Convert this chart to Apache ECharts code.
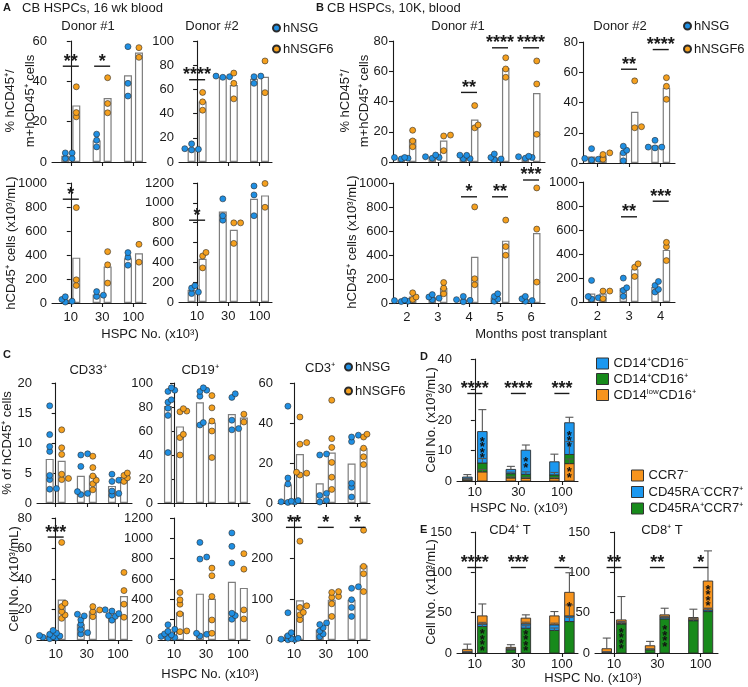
<!DOCTYPE html>
<html><head><meta charset="utf-8">
<script src="https://cdn.jsdelivr.net/npm/echarts@6/dist/echarts.min.js"></script>
<style>html,body{margin:0;padding:0;background:#fff}#chart{width:748px;height:687px}</style>
</head><body><div id="chart"></div>
<script>
// ================= DATA =================
const hspcLabels = ['10', '30', '100'];
const monthsDonor1 = [2, 3, 4, 5, 6];
const monthsDonor2 = [2, 3, 4];

// Panel A: CB HSPCs, 16 wk blood (per HSPC dose: 10, 30, 100 x10^3)
const aD1PctNSG = [[4.5, 4.5, 1.7, 1.7], [13.8, 10.8, 7.5], [57.2, 39, 32.7]];
const aD1PctF6  = [[37.3, 24.5, 22.4], [41.8, 29, 24.4], [56.7, 51.9]];
const aD2PctNSG = [[15, 11, 10.5, 10], [71, 70.5, 70], [71, 70.5, 65]];
const aD2PctF6  = [[57.5, 49.7, 42.8], [73.5, 65, 52.2], [83.5, 57.3]];
const aD1CntNSG = [[52, 30, 15, 8], [95, 65, 55], [420, 381, 315]];
const aD1CntF6  = [[795, 193, 146], [428, 318, 166], [489, 340]];
const aD2CntNSG = [[165, 140, 100, 85], [1040, 870, 825], [1170, 1080, 870]];
const aD2CntF6  = [[500, 464, 344], [798, 798, 591], [1195, 955]];
const aD1PctSig = [[0, 47.5, '**'], [1, 47.5, '*']];
const aD2PctSig = [[0, 68, '****']];
const aD1CntSig = [[0, 865, '*']];
const aD2CntSig = [[0, 825, '*']];

// Panel B: CB HSPCs, 10K, blood (per month post transplant)
const bD1PctNSG = [[3, 2.5, 2, 3], [4.6, 3.5, 3, 2.5], [4.5, 4.4, 2.2, 2.2], [5.3, 3, 2, 1.5], [3.8, 3.5, 3, 2.5]];
const bD1PctF6  = [[21, 13.9, 10.1], [17.8, 17.2, 7.5], [37.3, 24.5, 22.6], [68.9, 61.5, 56], [66.8, 51.6, 18.3]];
const bD2PctNSG = [[9.5, 3, 2.5, 2], [11.1, 8.4, 6.7, 1.5], [15, 10.5, 10.5, 10]];
const bD2PctF6  = [[6.7, 5.6, 2.5], [54.3, 23.3, 24], [56.4, 50.7, 42.1]];
const bD1CntNSG = [[25, 20, 15, 12], [70, 50, 40, 28], [55, 28, 22, 11], [77, 55, 33, 15], [55, 35, 20, 15]];
const bD1CntF6  = [[85, 50, 30], [171, 124, 77], [801, 202, 152], [691, 470, 398], [959, 616, 174]];
const bD2CntNSG = [[180, 45, 35, 25], [199, 119, 97, 47], [171, 138, 105, 83]];
const bD2CntF6  = [[91, 91, 28], [318, 290, 213], [497, 461, 345]];
const bD1PctSig = [[4, 46, '**'], [5, 75.5, '****'], [6, 75.5, '****']];
const bD2PctSig = [[3, 62, '**'], [4, 75, '****']];
const bD1CntSig = [[4, 885, '*'], [5, 885, '**'], [6, 1025, '***']];
const bD2CntSig = [[3, 710, '**'], [4, 840, '***']];

// Panel C: lineages (per HSPC dose)
const cCD33PctNSG = [[16.2, 11.4, 9.4, 8.6, 4.6, 3.9, 2.4, 2.3], [8.2, 8.0, 6.1, 1.9, 1.6, 1.4], [4.8, 3.8, 3.6, 2.0, 1.6, 1.3]];
const cCD33PctF6  = [[12.2, 9.2, 8.1, 4.8, 4.1, 3.9], [7.8, 5.9, 4.5, 3.8, 3.2, 2.2], [5.0, 4.6, 4.2, 3.6]];
const cCD19PctNSG = [[96, 94, 93, 86, 84, 79, 73, 42], [96, 94, 93, 89, 67, 65], [91, 88, 69, 62, 61]];
const cCD19PctF6  = [[78.6, 76.6, 76, 57.2, 54.5, 40], [89.5, 79.3, 68.3, 60, 37.9], [75.5, 74, 68, 67.5]];
const cCD3PctNSG  = [[48.4, 12.5, 9.5, 1.2, 0.9, 0.6, 0.5, 0.3], [24.5, 24, 4.8, 3.8, 1.3, 0.5], [33.9, 33, 30.7, 9.9, 7.9, 3]];
const cCD3PctF6   = [[43, 30.2, 29.4, 15.4, 14.9, 14], [51.4, 32.2, 27.8, 20.3, 12.9, 6.8], [34.4, 33, 27.4, 23.1, 19.2]];
const cCD33CntNSG = [[6.3, 4.5, 3.7, 3.0, 2.6, 2.2, 1.8, 1.4, 0.9], [16.9, 15.8, 13.2, 10.3, 7.0, 4.8, 3.9], [19.8, 19, 17.3, 16, 15.5, 13]];
const cCD33CntF6  = [[64, 24.1, 21.9, 18.6, 16.4, 14.2], [21.9, 19.7, 18.6, 15.3], [44.3, 32.4, 23.5, 14.9]];
const cCD19CntNSG = [[150, 105, 85, 60, 50, 35, 25, 20], [960, 816, 796, 66, 56, 40], [1053, 921, 757, 263, 240, 204]];
const cCD19CntF6  = [[467, 395, 352, 257, 89, 82], [707, 632, 428, 197, 66], [849, 697, 296, 207]];
const cCD3CntNSG  = [[67, 18, 10.5, 4, 3, 2, 1, 0.5], [42, 38, 30, 22, 15, 8], [131, 127, 99, 80, 58]];
const cCD3CntF6   = [[243, 84, 80, 68, 62, 50], [119, 117, 107, 105, 89, 58], [270, 181, 163, 119]];
const cCD33CntSig = [[0, 67.5, '***']];
const cCD3CntSig  = [[0, 277, '**'], [1, 277, '*'], [2, 277, '*']];

// Panel D: monocyte subsets, bars ordered [10 hNSG, 10 hNSGF6, 30 hNSG, 30 hNSGF6, 100 hNSG, 100 hNSGF6]
const dCD14lowCD16pos    = [0.3, 3.0, 1.0, 0.9, 0.8, 5.7];
const dCD14posCD16pos    = [0.4, 2.9, 1.4, 1.3, 1.2, 3.0];
const dCD14posCD16neg    = [0.6, 10.3, 1.4, 7.9, 4.3, 10.4];
const dErrCD14lowCD16pos = [0.2, 0.8, 0.4, 0.3, 0.3, 1.5];
const dErrCD14posCD16pos = [0.2, 1.5, 0.5, 0.8, 0.8, 4.2];
const dErrCD14posCD16neg = [0.8, 7.2, 1.0, 1.7, 2.5, 1.8];
const dStarsCD14lowCD16pos = [0, 0, 0, 0, 0, 2];
const dStarsCD14posCD16neg = [0, 4, 0, 2, 0, 3];
const dSig = [[0, 28.7, '****'], [1, 28.7, '****'], [2, 28.7, '***']];

// Panel E: T cell subsets, same bar order
const eCD4Naive     = [1.0, 33, 4, 30.8, 28, 39];     // CD45RA+CCR7+
const eCD4CM        = [0.5, 3, 1, 5.4, 7, 7];          // CD45RA-CCR7+
const eCD4Eff       = [3, 10, 2, 7, 11, 29.2];         // CCR7-
const eCD4ErrNaive  = [0.5, 3, 1, 3, 3, 5];
const eCD4ErrCM     = [0.5, 2, 0.5, 2, 2, 13.6];
const eCD4ErrEff    = [6.5, 14.8, 3.3, 4.1, 5.4, 24.3];
const eCD4StarsNaive = [0, 4, 0, 4, 0, 0];
const eCD4StarsEff   = [0, 0, 0, 0, 0, 1];
const eCD4Sig = [[0, 106, '****'], [1, 106, '***'], [2, 106, '*']];
const eCD8Naive     = [1, 36, 4, 42.3, 40, 51.4];
const eCD8CM        = [0.3, 1, 0.5, 2.1, 1, 2];
const eCD8Eff       = [4, 4, 4.5, 2.9, 3, 35.8];
const eCD8ErrNaive  = [0.5, 3, 1, 2, 3, 4];
const eCD8ErrCM     = [0.3, 1, 0.5, 1, 1, 2];
const eCD8ErrEff    = [13.2, 29, 5.4, 8.2, 10.3, 37.4];
const eCD8StarsNaive = [0, 4, 0, 4, 0, 0];
const eCD8StarsEff   = [0, 0, 0, 0, 0, 4];
const eCD8Sig = [[0, 106, '**'], [1, 106, '**'], [2, 106, '*']];

// ================= STYLE / HELPERS =================
const FONT = '"Liberation Sans", Arial, Helvetica, sans-serif';
const INK = '#1a1a1a';
const DOT_BLUE = '#1f8fe3', DOT_ORANGE = '#f5a01e';
const SEG_BLUE = '#1b98f0', SEG_GREEN = '#178a1b', SEG_ORANGE = '#f7941d';
const DOT_STEP = 3.4, DOT_MIN = 4;

const option = {
  animation: false, backgroundColor: '#ffffff', textStyle: { fontFamily: FONT },
  grid: [], xAxis: [], yAxis: [], series: [], legend: [], graphic: []
};

function mean(a) { return a.reduce((s, v) => s + v, 0) / a.length; }

function addAxes(c) {
  const gi = option.grid.length;
  option.grid.push({ left: c.left, top: c.top, width: c.width, height: c.height, containLabel: false });
  option.xAxis.push({
    type: 'value', gridIndex: gi, min: c.xmin, max: c.xmax,
    axisLine: { show: true, onZero: false, lineStyle: { color: INK, width: 1.1 } },
    axisTick: { show: true, length: 4, customValues: c.xs, lineStyle: { color: INK, width: 1.1 } },
    axisLabel: {
      show: !!c.showX, customValues: c.xs, margin: c.xMargin || 8, fontSize: 13, color: INK, fontFamily: FONT,
      formatter: v => { const i = c.xs.findIndex(x => Math.abs(x - v) < 1e-6); return i >= 0 ? c.names[i] : ''; }
    },
    splitLine: { show: false }
  });
  option.yAxis.push({
    type: 'value', gridIndex: gi, min: 0, max: c.ymax, interval: c.yint,
    axisLine: { show: true, lineStyle: { color: INK, width: 1.1 } },
    axisTick: { show: true, length: 4, lineStyle: { color: INK, width: 1.1 } },
    axisLabel: { margin: 5, fontSize: 13, color: INK, fontFamily: FONT, formatter: v => String(v) },
    splitLine: { show: false }
  });
  return gi;
}

function swarm(groups, xs, off, pxX, pxY) {
  const out = [];
  groups.forEach((vals, i) => {
    const placed = [];
    vals.slice().sort((a, b) => a - b).forEach(v => {
      let best = 0, bestDist = -1;
      for (const k of [0, 1, -1, 2, -2, 3, -3]) {
        const d = k * DOT_STEP;
        const md = placed.reduce((m, p) => Math.min(m, Math.hypot(p.d - d, (p.v - v) * pxY)), Infinity);
        if (md >= DOT_MIN) { best = d; bestDist = md; break; }
        if (md > bestDist) { bestDist = md; best = d; }
      }
      placed.push({ d: best, v: v });
      out.push([xs[i] + off + best / pxX, v]);
    });
  });
  return out;
}

function sigSeries(gi, sig, half) {
  return {
    type: 'custom', xAxisIndex: gi, yAxisIndex: gi, clip: false, silent: true, z: 8,
    data: sig.map(s => [s[0], s[1]]),
    renderItem: (params, api) => {
      const lab = sig[params.dataIndex][2];
      const p = api.coord([api.value(0), api.value(1)]);
      return {
        type: 'group', children: [
          { type: 'line', shape: { x1: p[0] - half, y1: p[1], x2: p[0] + half, y2: p[1] }, style: { stroke: INK, lineWidth: 1.4 } },
          { type: 'text', style: { text: lab, x: p[0], y: p[1] - 4.5, align: 'center', verticalAlign: 'middle', textAlign: 'center', textVerticalAlign: 'middle', font: 'bold 18px ' + FONT, fill: INK } }
        ]
      };
    }
  };
}

function dotPlot(c, nsg, f6, sig) {
  const gi = addAxes(c);
  const pxX = c.width / (c.xmax - c.xmin), pxY = c.height / c.ymax;
  const off = c.offPx / pxX;
  const bars = [];
  c.xs.forEach((x, i) => { bars.push([x - off, mean(nsg[i])]); bars.push([x + off, mean(f6[i])]); });
  option.series.push({ type: 'bar', xAxisIndex: gi, yAxisIndex: gi, barWidth: c.barW, data: bars, silent: true, z: 2,
    itemStyle: { color: '#ffffff', borderColor: '#7d7d7d', borderWidth: 1.2 } });
  option.series.push({ type: 'scatter', name: 'hNSG', xAxisIndex: gi, yAxisIndex: gi, symbol: 'circle', symbolSize: 6, z: 4,
    data: swarm(nsg, c.xs, -off, pxX, pxY), itemStyle: { color: DOT_BLUE, borderColor: '#2b2b2b', borderWidth: 0.6, opacity: 1 } });
  option.series.push({ type: 'scatter', name: 'hNSGF6', xAxisIndex: gi, yAxisIndex: gi, symbol: 'circle', symbolSize: 6, z: 4,
    data: swarm(f6, c.xs, off, pxX, pxY), itemStyle: { color: DOT_ORANGE, borderColor: '#2b2b2b', borderWidth: 0.6, opacity: 1 } });
  if (sig) option.series.push(sigSeries(gi, sig, 8));
}

function stackPlot(c, segs, sig) {
  const gi = addAxes(c);
  const pxX = c.width / (c.xmax - c.xmin);
  const off = c.offPx / pxX;
  const n = segs[0].vals.length;
  const xpos = i => c.xs[Math.floor(i / 2)] + (i % 2 ? off : -off);
  const base = new Array(n).fill(0);
  const errData = [], starData = [];
  segs.forEach((s, si) => {
    const data = s.vals.map((v, i) => {
      const b = base[i]; base[i] += v;
      errData.push([xpos(i), b + v, b + v + s.errs[i]]);
      if (s.stars && s.stars[i]) starData.push([xpos(i), b + v / 2, s.stars[i]]);
      return [xpos(i), b, b + v];
    });
    option.series.push({
      type: 'custom', name: s.name, xAxisIndex: gi, yAxisIndex: gi, clip: false, silent: true, z: 2 + si,
      itemStyle: { color: s.color }, data: data, encode: { x: 0, y: [1, 2] },
      renderItem: (params, api) => {
        const x = api.value(0);
        const p0 = api.coord([x, api.value(1)]), p1 = api.coord([x, api.value(2)]);
        return { type: 'rect', shape: { x: p0[0] - c.barW / 2, y: p1[1], width: c.barW, height: Math.max(0, p0[1] - p1[1]) },
          style: { fill: s.color, stroke: '#2e2e2e', lineWidth: 0.9 } };
      }
    });
  });
  option.series.push({
    type: 'custom', xAxisIndex: gi, yAxisIndex: gi, clip: false, silent: true, z: 7, data: errData, encode: { x: 0, y: [1, 2] },
    renderItem: (params, api) => {
      const x = api.value(0);
      const p0 = api.coord([x, api.value(1)]), p1 = api.coord([x, api.value(2)]);
      return { type: 'group', children: [
        { type: 'line', shape: { x1: p0[0], y1: p0[1], x2: p1[0], y2: p1[1] }, style: { stroke: '#555', lineWidth: 1.1 } },
        { type: 'line', shape: { x1: p1[0] - 4, y1: p1[1], x2: p1[0] + 4, y2: p1[1] }, style: { stroke: '#555', lineWidth: 1.1 } }
      ] };
    }
  });
  option.series.push({
    type: 'custom', xAxisIndex: gi, yAxisIndex: gi, clip: false, silent: true, z: 9, data: starData, encode: { x: 0, y: 1 },
    renderItem: (params, api) => {
      const p = api.coord([api.value(0), api.value(1)]);
      const k = api.value(2), ch = [];
      for (let j = 0; j < k; j++) {
        ch.push({ type: 'text', style: { text: '*', x: p[0], y: p[1] + (j - (k - 1) / 2) * 5.5 + 3, align: 'center', verticalAlign: 'middle',
          textAlign: 'center', textVerticalAlign: 'middle', font: 'bold 13px ' + FONT, fill: '#111' } });
      }
      return { type: 'group', children: ch };
    }
  });
  if (sig) option.series.push(sigSeries(gi, sig, 7.5));
}

function txt(x, y, text, o) {
  o = o || {};
  option.graphic.push({ type: 'text', x: x, y: y, rotation: o.rot ? Math.PI / 2 : 0, silent: true,
    style: { text: text, font: (o.bold ? 'bold ' : '') + (o.size || 13) + 'px ' + FONT, fill: INK,
      align: o.align || 'center', verticalAlign: 'middle', textAlign: o.align || 'center', textVerticalAlign: 'middle' } });
}

function dotLegend(left, top, gap) {
  option.legend.push({ left: left, top: top, orient: 'vertical', padding: 0, itemWidth: 7, itemHeight: 7, itemGap: gap,
    icon: 'circle', selectedMode: false, data: ['hNSG', 'hNSGF6'],
    textStyle: { fontSize: 13, color: INK, fontFamily: FONT, padding: [0, 0, 0, -2] } });
}

// ================= PANEL A =================
const axA = { xs: [0, 1, 2], names: hspcLabels, xmax: 2.4, offPx: 5.5, barW: 8 };
dotPlot(Object.assign({}, axA, { left: 52, top: 41, width: 94, height: 121, xmin: -0.6, ymax: 60, yint: 20 }), aD1PctNSG, aD1PctF6, aD1PctSig);
dotPlot(Object.assign({}, axA, { left: 179, top: 41, width: 93, height: 121, xmin: -0.58, ymax: 100, yint: 20 }), aD2PctNSG, aD2PctF6, aD2PctSig);
dotPlot(Object.assign({}, axA, { left: 52, top: 183, width: 94, height: 120, xmin: -0.6, ymax: 1000, yint: 200, showX: true }), aD1CntNSG, aD1CntF6, aD1CntSig);
dotPlot(Object.assign({}, axA, { left: 179, top: 183, width: 93, height: 119, xmin: -0.58, ymax: 1200, yint: 200, showX: true }), aD2CntNSG, aD2CntF6, aD2CntSig);

// ================= PANEL B =================
const ax1 = { xs: monthsDonor1, names: monthsDonor1.map(String), xmin: 1.55, xmax: 6.45, offPx: 5.7, barW: 7.5 };
const ax2 = { xs: monthsDonor2, names: monthsDonor2.map(String), xmin: 1.55, xmax: 4.45, offPx: 5.7, barW: 7.5 };
dotPlot(Object.assign({}, ax1, { left: 393, top: 41, width: 152, height: 121, ymax: 80, yint: 20 }), bD1PctNSG, bD1PctF6, bD1PctSig);
dotPlot(Object.assign({}, ax2, { left: 583, top: 42, width: 92, height: 121, ymax: 80, yint: 20 }), bD2PctNSG, bD2PctF6, bD2PctSig);
dotPlot(Object.assign({}, ax1, { left: 393, top: 183, width: 152, height: 120, ymax: 1000, yint: 200, showX: true }), bD1CntNSG, bD1CntF6, bD1CntSig);
dotPlot(Object.assign({}, ax2, { left: 583, top: 182, width: 92, height: 120, ymax: 1000, yint: 200, showX: true }), bD2CntNSG, bD2CntF6, bD2CntSig);

// ================= PANEL C =================
const axC = { xs: [0, 1, 2], names: hspcLabels, offPx: 6, barW: 8 };
dotPlot(Object.assign({}, axC, { left: 37, top: 383, width: 95, height: 120, xmin: -0.6, xmax: 2.45, ymax: 20, yint: 5 }), cCD33PctNSG, cCD33PctF6);
dotPlot(Object.assign({}, axC, { left: 158, top: 383, width: 92, height: 120, xmin: -0.5, xmax: 2.38, ymax: 100, yint: 20 }), cCD19PctNSG, cCD19PctF6);
dotPlot(Object.assign({}, axC, { left: 278, top: 383, width: 92, height: 120, xmin: -0.5, xmax: 2.39, ymax: 60, yint: 20 }), cCD3PctNSG, cCD3PctF6);
dotPlot(Object.assign({}, axC, { left: 37, top: 518, width: 95, height: 122, xmin: -0.6, xmax: 2.45, ymax: 80, yint: 20, showX: true }), cCD33CntNSG, cCD33CntF6, cCD33CntSig);
dotPlot(Object.assign({}, axC, { left: 158, top: 518, width: 92, height: 122, xmin: -0.5, xmax: 2.38, ymax: 1200, yint: 200, showX: true }), cCD19CntNSG, cCD19CntF6);
dotPlot(Object.assign({}, axC, { left: 278, top: 518, width: 92, height: 122, xmin: -0.5, xmax: 2.39, ymax: 300, yint: 100, showX: true }), cCD3CntNSG, cCD3CntF6, cCD3CntSig);

// ================= PANEL D =================
const nD1 = 'CD14⁺CD16⁻', nD2 = 'CD14⁺CD16⁺', nD3 = 'CD14lowCD16⁺';
stackPlot({ left: 457, top: 359, width: 121, height: 122, xs: [0, 1, 2], names: hspcLabels, xmin: -0.41, xmax: 2.37,
  offPx: 7.5, barW: 9.5, ymax: 40, yint: 10, showX: true, xMargin: 5 }, [
  { name: nD3, color: SEG_ORANGE, vals: dCD14lowCD16pos, errs: dErrCD14lowCD16pos, stars: dStarsCD14lowCD16pos },
  { name: nD2, color: SEG_GREEN, vals: dCD14posCD16pos, errs: dErrCD14posCD16pos },
  { name: nD1, color: SEG_BLUE, vals: dCD14posCD16neg, errs: dErrCD14posCD16neg, stars: dStarsCD14posCD16neg }
], dSig);

// ================= PANEL E =================
const nE1 = 'CCR7⁻', nE2 = 'CD45RA⁻CCR7⁺', nE3 = 'CD45RA⁺CCR7⁺';
stackPlot({ left: 457, top: 532, width: 121, height: 121, xs: [0, 1, 2], names: hspcLabels, xmin: -0.41, xmax: 2.37,
  offPx: 7.5, barW: 9.5, ymax: 150, yint: 50, showX: true, xMargin: 5 }, [
  { name: nE3, color: SEG_GREEN, vals: eCD4Naive, errs: eCD4ErrNaive, stars: eCD4StarsNaive },
  { name: nE2, color: SEG_BLUE, vals: eCD4CM, errs: eCD4ErrCM },
  { name: nE1, color: SEG_ORANGE, vals: eCD4Eff, errs: eCD4ErrEff, stars: eCD4StarsEff }
], eCD4Sig);
stackPlot({ left: 595, top: 532, width: 123, height: 121, xs: [0, 1, 2], names: hspcLabels, xmin: -0.44, xmax: 2.4,
  offPx: 7.3, barW: 9.5, ymax: 150, yint: 50, showX: true, xMargin: 5 }, [
  { name: nE3, color: SEG_GREEN, vals: eCD8Naive, errs: eCD8ErrNaive, stars: eCD8StarsNaive },
  { name: nE2, color: SEG_BLUE, vals: eCD8CM, errs: eCD8ErrCM },
  { name: nE1, color: SEG_ORANGE, vals: eCD8Eff, errs: eCD8ErrEff, stars: eCD8StarsEff }
], eCD8Sig);

// ================= LEGENDS =================
dotLegend(272, 21.5, 8);
dotLegend(683, 19.5, 10);
dotLegend(344, 360.5, 11);
const richLeg = { a: { fontSize: 13, fontFamily: FONT, color: INK, lineHeight: 14 }, s: { fontSize: 8, fontFamily: FONT, color: INK, lineHeight: 14, verticalAlign: 'top' } };
option.legend.push({ left: 596, top: 357, orient: 'vertical', padding: 0, itemWidth: 12, itemHeight: 11, itemGap: 2.5, icon: 'rect',
  selectedMode: false, data: [nD1, nD2, nD3], itemStyle: { borderColor: '#333', borderWidth: 1 },
  formatter: n => n === nD3 ? '{a|CD14}{s|low}{a|CD16⁺}' : '{a|' + n + '}', textStyle: { rich: richLeg } });
option.legend.push({ left: 631, top: 469, orient: 'vertical', padding: 0, itemWidth: 12, itemHeight: 11, itemGap: 3.5, icon: 'rect',
  selectedMode: false, data: [nE1, nE2, nE3], itemStyle: { borderColor: '#333', borderWidth: 1 },
  textStyle: { fontSize: 13, color: INK, fontFamily: FONT } });

// ================= TEXT =================
txt(3, 8, 'A', { bold: true, size: 11, align: 'left' });
txt(22, 8, 'CB HSPCs, 16 wk blood', { align: 'left' });
txt(316, 8, 'B', { bold: true, size: 11, align: 'left' });
txt(327, 8, 'CB HSPCs, 10K, blood', { align: 'left' });
txt(88, 26, 'Donor #1'); txt(212, 26, 'Donor #2');
txt(458, 26, 'Donor #1'); txt(620, 26, 'Donor #2');
txt(10, 101, '% hCD45⁺/', { rot: true }); txt(30, 101, 'm+hCD45⁺ cells', { rot: true });
txt(11, 243, 'hCD45⁺ cells (x10³/mL)', { rot: true });
txt(150, 334, 'HSPC No. (x10³)');
txt(345, 101, '% hCD45⁺/', { rot: true }); txt(364, 101, 'm+hCD45⁺ cells', { rot: true });
txt(352, 242, 'hCD45⁺ cells (x10³/mL)', { rot: true });
txt(541, 334, 'Months post transplant');
txt(3, 355, 'C', { bold: true, size: 11, align: 'left' });
txt(88, 370, 'CD33⁺'); txt(200, 370, 'CD19⁺'); txt(320, 368, 'CD3⁺');
txt(7, 443, '% of hCD45⁺ cells', { rot: true });
txt(14, 579, 'Cell No. (x10³/mL)', { rot: true });
txt(210, 674, 'HSPC No. (x10³)');
txt(420, 357, 'D', { bold: true, size: 11, align: 'left' });
txt(431, 420, 'Cell No. (x10³/mL)', { rot: true });
txt(519, 508, 'HSPC No. (x10³)');
txt(420, 530, 'E', { bold: true, size: 11, align: 'left' });
txt(510, 530, 'CD4⁺ T'); txt(662, 530, 'CD8⁺ T');
txt(431, 592, 'Cell No. (x10³/mL)', { rot: true });
txt(593, 678, 'HSPC No. (x10³)');

const chart = echarts.init(document.getElementById('chart'), null, { renderer: 'canvas' });
chart.setOption(option);
</script>
</body></html>
